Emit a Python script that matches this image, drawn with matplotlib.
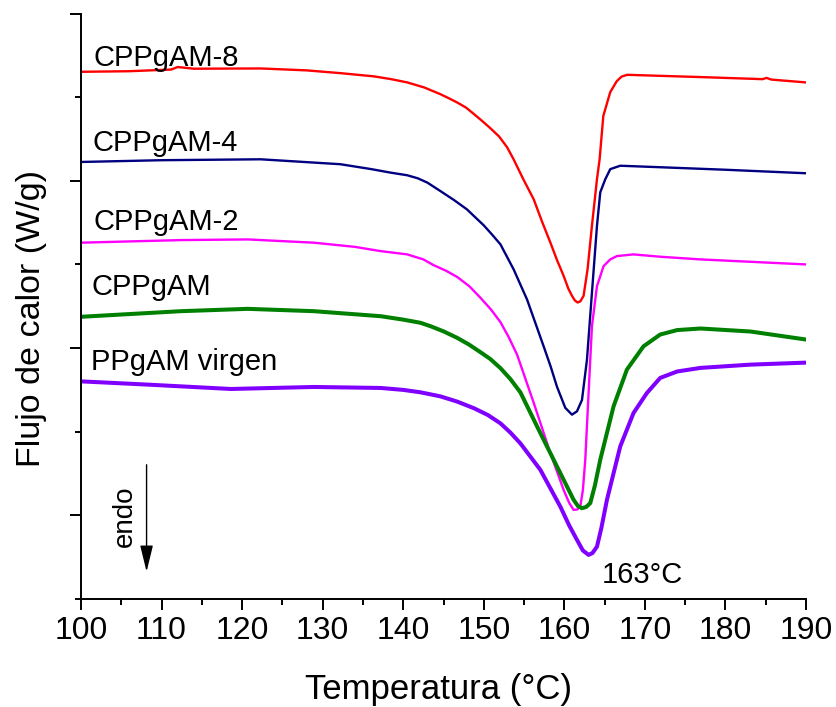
import matplotlib
matplotlib.use("Agg")
import matplotlib.pyplot as plt
from matplotlib.ticker import MultipleLocator, NullFormatter

plt.rcParams['font.family'] = ['Liberation Sans', 'DejaVu Sans']

# Curvas DSC (temperatura en °C, flujo de calor desplazado, unidades arbitrarias)
t_cppgam8 = [100, 106.0, 111.2, 112.0, 114.0, 122.3, 128.0, 132.2, 136.4, 138.5, 140.5,
             142.6, 144.6, 145.7, 146.7, 147.8, 148.8, 149.8, 150.8, 151.9, 152.9,
             153.7, 154.9, 156.2, 157.2, 158.26, 159.1, 159.91, 160.5, 160.95, 161.3,
             161.65, 162.0, 162.39, 162.89, 163.43, 164.05, 164.38, 164.84, 165.7,
             166.5, 167.1, 167.8, 176.9, 184.6, 185.1, 185.7, 190]
q_cppgam8 = [6.303, 6.31, 6.33, 6.36, 6.34, 6.343, 6.32, 6.287, 6.248, 6.215, 6.176,
             6.116, 6.036, 5.985, 5.936, 5.875, 5.796, 5.715, 5.63, 5.53, 5.40,
             5.257, 5.02, 4.778, 4.52, 4.263, 4.05, 3.864, 3.71, 3.625, 3.57,
             3.545, 3.56, 3.625, 3.946, 4.465, 5.018, 5.257, 5.776, 6.060,
             6.19, 6.245, 6.267, 6.24, 6.215, 6.23, 6.21, 6.176]

t_cppgam4 = [100, 110, 122.3, 132.2, 136.0, 138.4, 140.5, 141.8, 143.0, 144.6, 146.3,
             147.9, 150.0, 151.0, 152.07, 153.71, 155.37, 157.43, 158.3, 159.09, 160.12,
             160.95, 161.57, 162.19, 162.81, 163.43, 164.05, 164.46, 165.08, 165.7,
             166.94, 171.9, 180, 190]
q_cppgam4 = [5.225, 5.246, 5.257, 5.198, 5.14, 5.098, 5.066, 5.03, 4.978, 4.878, 4.77,
             4.659, 4.467, 4.36, 4.240, 3.940, 3.581, 3.021, 2.78, 2.537, 2.285,
             2.204, 2.244, 2.379, 2.862, 3.665, 4.459, 4.862, 5.018, 5.139,
             5.180, 5.162, 5.132, 5.090]

t_cppgam2 = [100, 112.4, 120.7, 128.9, 134.0, 137.2, 140.5, 142.5, 143.8, 145.3, 146.7,
             148.2, 149.6, 150.9, 152.07, 153.1, 154.14, 156.2, 158.26, 159.91, 160.6,
             161.15, 161.6, 161.98, 162.3, 162.6, 163.01, 163.43, 164.05, 164.87, 165.7,
             166.53, 168.59, 171.9, 176.9, 190]
q_cppgam2 = [4.260, 4.291, 4.299, 4.260, 4.21, 4.159, 4.120, 4.060, 3.99, 3.925, 3.85,
             3.74, 3.60, 3.46, 3.31, 3.13, 2.92, 2.345, 1.746, 1.305, 1.15,
             1.066, 1.07, 1.106, 1.30, 1.665, 2.463, 3.263, 3.740, 3.980, 4.06,
             4.100, 4.120, 4.092, 4.06, 4.000]

t_cppgam = [100, 112.4, 120.7, 128.9, 137.2, 140.0, 142.15, 143.4, 145.0, 146.7, 148.2,
            149.6, 150.8, 152.07, 153.3, 154.55, 157.02, 159.5, 161.15, 161.7, 162.19,
            162.7, 163.22, 163.8, 164.46, 166.11, 167.77, 169.83, 171.9, 174.0, 176.9,
            183.1, 190]
q_cppgam = [3.374, 3.441, 3.469, 3.441, 3.381, 3.34, 3.302, 3.261, 3.20, 3.122, 3.04,
            2.95, 2.87, 2.76, 2.63, 2.47, 1.984, 1.505, 1.186, 1.11, 1.086,
            1.10, 1.146, 1.36, 1.665, 2.303, 2.743, 3.021, 3.162, 3.215, 3.234,
            3.198, 3.102]

t_virgen = [100, 108.3, 118.6, 128.9, 137.2, 140.0, 142.15, 144.6, 146.7, 148.8, 150.5,
            152.07, 153.3, 154.55, 157.02, 159.5, 160.6, 161.57, 162.3, 163.01, 163.5,
            164.05, 164.6, 165.29, 166.94, 168.59, 170.25, 171.9, 174.0, 176.9, 183.1, 190]
q_virgen = [2.602, 2.563, 2.511, 2.535, 2.523, 2.50, 2.471, 2.423, 2.36, 2.28, 2.20,
            2.10, 1.99, 1.86, 1.545, 1.105, 0.88, 0.707, 0.58, 0.527, 0.55,
            0.626, 0.85, 1.186, 1.824, 2.224, 2.463, 2.643, 2.72, 2.763, 2.802, 2.826]

nombres = ["CPPgAM-8", "CPPgAM-4", "CPPgAM-2", "CPPgAM", "PPgAM virgen"]
colores = ["#ff0000", "#000080", "#ff00ff", "#008000", "#8000ff"]
grosores = [1.7, 1.7, 1.7, 2.9, 2.9]
# posición de las etiquetas (x, y de la línea base)
etiquetas_xy = [(101.6, 6.375), (101.4, 5.357), (101.55, 4.411), (101.35, 3.629), (101.2, 2.743)]

curvas = [(t_cppgam8, q_cppgam8), (t_cppgam4, q_cppgam4), (t_cppgam2, q_cppgam2),
          (t_cppgam, q_cppgam), (t_virgen, q_virgen)]

fig = plt.figure(figsize=(8.37, 7.07), dpi=100)
ax = fig.add_axes([81 / 837, 108 / 707, 725 / 837, 585.5 / 707])

for (t, q), nombre, c, lw, (tx, ty) in zip(curvas, nombres, colores, grosores, etiquetas_xy):
    ax.plot(t, q, color=c, lw=lw, solid_joinstyle='round', solid_capstyle='round')
    ax.text(tx, ty, nombre, fontsize=21, ha='left', va='baseline')

ax.text(164.7, 0.195, "163°C", fontsize=21, ha='left', va='baseline')

# flecha "endo"
ax.annotate("", xy=(108.14, 0.327), xytext=(108.14, 1.605),
            arrowprops=dict(arrowstyle='-|>,head_length=0.9,head_width=0.22',
                            lw=1.0, color='black', mutation_scale=18, shrinkA=0, shrinkB=0))
ax.text(105.45, 0.994, "endo", fontsize=20, rotation=90, ha='center', va='center')

ax.set_xlim(100, 190)
ax.set_ylim(0, 7)
ax.xaxis.set_major_locator(MultipleLocator(10))
ax.xaxis.set_minor_locator(MultipleLocator(5))
ax.yaxis.set_major_locator(MultipleLocator(2, offset=1))
ax.yaxis.set_minor_locator(MultipleLocator(2))
ax.yaxis.set_major_formatter(NullFormatter())

for s in ['top', 'right']:
    ax.spines[s].set_visible(False)
for s in ['left', 'bottom']:
    ax.spines[s].set_linewidth(1.4)

ax.tick_params(which='major', direction='out', length=8, width=1.4, labelsize=23, pad=4)
ax.tick_params(which='minor', direction='out', length=4.5, width=1.4)

fig.text(305 / 837, 1 - 699 / 707, "Temperatura (°C)", fontsize=25, ha='left', va='baseline')
fig.text(40 / 837, 1 - 467 / 707, "Flujo de calor (W/g)", fontsize=24.5, rotation=90,
         rotation_mode='anchor', ha='left', va='baseline')

fig.savefig("out.png", dpi=100)
